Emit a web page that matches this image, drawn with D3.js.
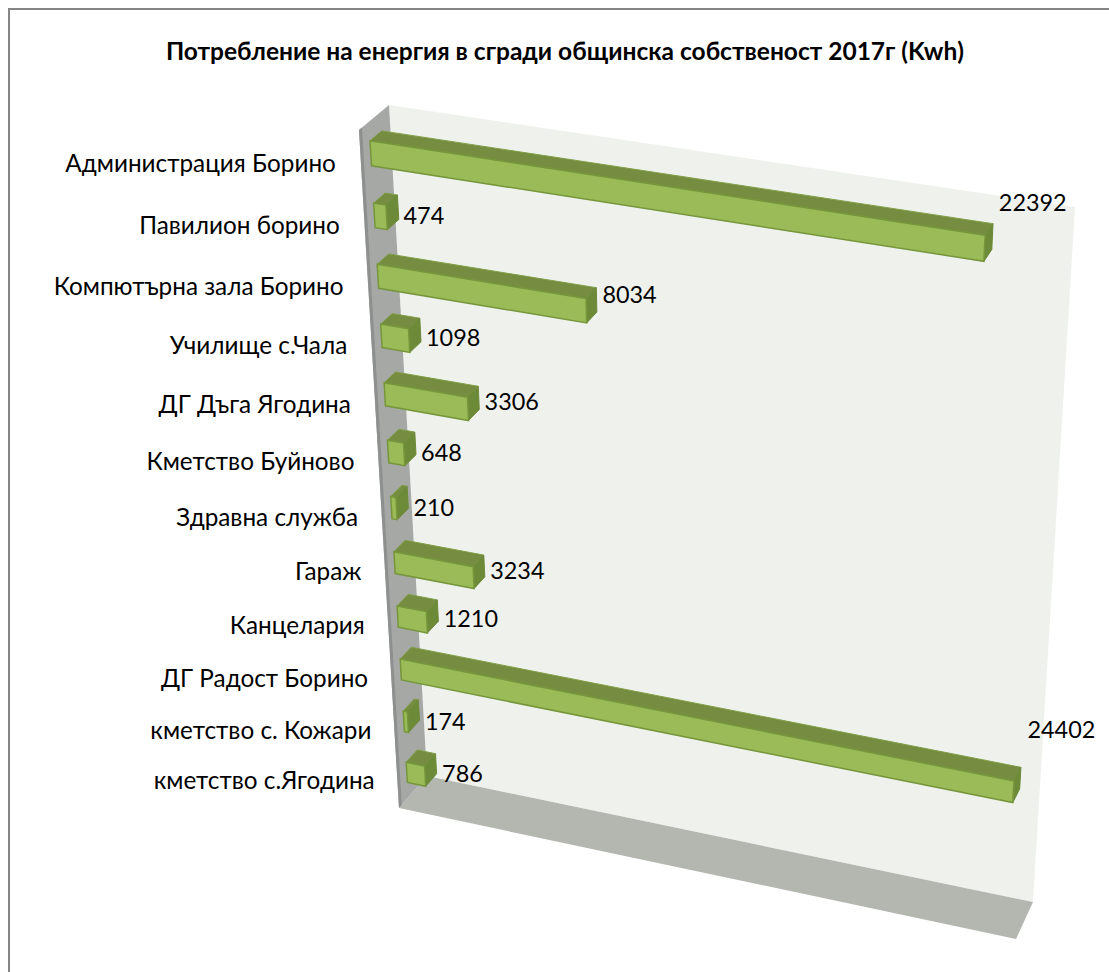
<!DOCTYPE html>
<html>
<head>
<meta charset="utf-8">
<script src="https://cdn.jsdelivr.net/npm/d3@7"></script>
<style>
  html, body { margin: 0; padding: 0; background: #fff; }
  svg { display: block; }
  text { font-family: Lato, "Open Sans", sans-serif; fill: #000; }
</style>
</head>
<body>
<div id="chart"></div>
<script>
const chartTitle = "Потребление на енергия в сгради общинска собственост 2017г (Kwh)";
const categories = ["Администрация Борино", "Павилион борино", "Компютърна зала Борино", "Училище с.Чала",
  "ДГ Дъга Ягодина", "Кметство Буйново", "Здравна служба", "Гараж", "Канцелария", "ДГ Радост Борино",
  "кметство с. Кожари", "кметство с.Ягодина"];
const values = [22392, 474, 8034, 1098, 3306, 648, 210, 3234, 1210, 24402, 174, 786];

const width = 1109, height = 972;
const axisMax = 25000;

// corners of the 3d box on screen
const frontPlane = [[359, 130], [1056, 237], [1016, 939], [399, 808]];
const backPlane = [[389, 105], [1075, 207], [1033, 902], [427, 776]];

// unit square -> quad
function squareToQuad(q) {
  let [[x0, y0], [x1, y1], [x2, y2], [x3, y3]] = q;
  let sx = x0 - x1 + x2 - x3, sy = y0 - y1 + y2 - y3;
  let dx1 = x1 - x2, dx2 = x3 - x2, dy1 = y1 - y2, dy2 = y3 - y2;
  let den = dx1 * dy2 - dx2 * dy1;
  let g = (sx * dy2 - dx2 * sy) / den, h = (dx1 * sy - sx * dy1) / den;
  let a = x1 - x0 + g * x1, b = x3 - x0 + h * x3;
  let d = y1 - y0 + g * y1, e = y3 - y0 + h * y3;
  return (u, v) => {
    let w = g * u + h * v + 1;
    return [(a * u + b * v + x0) / w, (d * u + e * v + y0) / w];
  };
}
const frontH = squareToQuad(frontPlane), backH = squareToQuad(backPlane);

const x = d3.scaleLinear().domain([0, axisMax]).range([0, 1]);
const y = d3.scaleBand().domain(categories).range([0, 1]).paddingInner(0.6).paddingOuter(0.3);

// u along value, v down the categories, w from front to back
function project(u, v, w) {
  let f = frontH(u, v), b = backH(u, v);
  return [f[0] + (b[0] - f[0]) * w, f[1] + (b[1] - f[1]) * w];
}
const depthFront = 0.33, depthBack = 0.72;

// data labels float off the bar end, more so for long bars
const labelLift = d3.scaleLinear().domain([0, 786, 3300, 8034, 22392, 24402]).range([0, -2, -7, -16, -45, -62]);

const svg = d3.select("#chart").append("svg").attr("width", width).attr("height", height);

// chart frame runs off the picture at right and bottom
svg.append("rect").attr("x", 9).attr("y", 9).attr("width", width).attr("height", height)
  .attr("fill", "#fff").attr("stroke", "#868686").attr("stroke-width", 2);

svg.append("text").attr("x", 565).attr("y", 60).attr("text-anchor", "middle")
  .attr("font-size", 24.5).attr("font-weight", "bold").text(chartTitle);

const poly = pts => "M" + pts.map(p => p.map(n => n.toFixed(1)).join(",")).join("L") + "Z";

// walls
svg.append("path").attr("d", poly(backPlane)).attr("fill", "#eff2ec");
svg.append("path").attr("d", poly([frontPlane[3], backPlane[3], backPlane[2], frontPlane[2]])).attr("fill", "#b4b7b0");
svg.append("path").attr("d", poly([frontPlane[0], backPlane[0], backPlane[3], frontPlane[3]])).attr("fill", "#a6a8a6");
svg.append("path").attr("d", poly([frontPlane[0], project(0, 0, 0.1), project(0, 1, 0.1), frontPlane[3]])).attr("fill", "#8e9090");

// bars
const bars = svg.append("g").selectAll("g").data(values).join("g");
const corners = (d, i) => {
  let c = categories[i], u = x(d), v0 = y(c), v1 = v0 + y.bandwidth();
  return {
    ft0: project(0, v0, depthFront), ft1: project(u, v0, depthFront),
    fb0: project(0, v1, depthFront), fb1: project(u, v1, depthFront),
    bt0: project(0, v0, depthBack), bt1: project(u, v0, depthBack),
    bb1: project(u, v1, depthBack)
  };
};
bars.append("path").attr("d", (d, i) => { let c = corners(d, i); return poly([c.ft0, c.bt0, c.bt1, c.ft1]); })
  .attr("fill", "#758c41").attr("stroke", "#7f9f45").attr("stroke-width", 1);
bars.append("path").attr("d", (d, i) => { let c = corners(d, i); return poly([c.ft1, c.bt1, c.bb1, c.fb1]); })
  .attr("fill", "#6d8a38").attr("stroke", "#6d8a38").attr("stroke-width", 1);
bars.append("path").attr("d", (d, i) => { let c = corners(d, i); return poly([c.ft0, c.ft1, c.fb1, c.fb0]); })
  .attr("fill", "#9bbb59").attr("stroke", "#76963c").attr("stroke-width", 1.5);

// category labels
const rowMid = d => y(d) + y.bandwidth() / 2;
svg.append("g").selectAll("text").data(categories).join("text")
  .attr("x", d => project(0, rowMid(d), depthFront)[0] - 32 - 3 * (1 - rowMid(d)))
  .attr("y", d => project(0, rowMid(d), depthFront)[1] + 17 + 2 * (1 - rowMid(d)))
  .attr("text-anchor", "end").attr("font-size", 24.3).text(d => d);

// data labels
svg.append("g").selectAll("text").data(values).join("text")
  .attr("x", (d, i) => project(x(d), rowMid(categories[i]), depthFront)[0] + 17 - 3 * x(d))
  .attr("y", (d, i) => project(x(d), rowMid(categories[i]), depthFront)[1] + labelLift(d) + 8)
  .attr("font-size", 23.4).text(d => d);
</script>
</body>
</html>
